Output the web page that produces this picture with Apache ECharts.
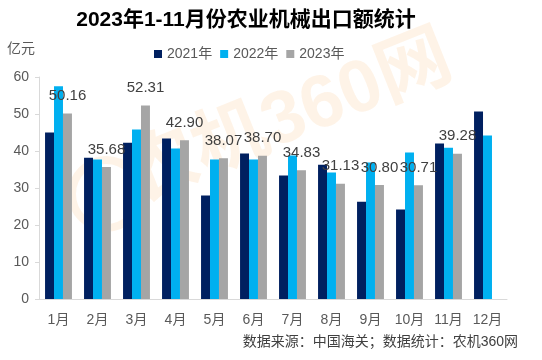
<!DOCTYPE html>
<html><head><meta charset="utf-8">
<script src="https://cdn.jsdelivr.net/npm/echarts@6/dist/echarts.min.js"></script>
<style>html,body{margin:0;padding:0;background:#fff}#c{width:542px;height:360px}</style>
</head><body><div id="c"></div>
<script>
const categories = ['1月','2月','3月','4月','5月','6月','7月','8月','9月','10月','11月','12月'];
const v2021 = [45.0, 38.2, 42.2, 43.4, 28.0, 39.3, 33.4, 36.3, 26.3, 24.2, 42.0, 50.7];
const v2022 = [57.5, 37.7, 45.8, 40.7, 37.7, 37.7, 38.8, 34.2, 36.9, 39.6, 40.9, 44.2];
const v2023 = [50.16, 35.68, 52.31, 42.90, 38.07, 38.70, 34.83, 31.13, 30.80, 30.71, 39.28];
const yTicks = [0, 10, 20, 30, 40, 50, 60];

const chart = echarts.init(document.getElementById('c'));
const font = 'Liberation Sans, Arial, "Noto Sans CJK SC", sans-serif';
chart.setOption({
  animation: false,
  textStyle: { fontFamily: font },
  title: {
    text: '2023年1-11月份农业机械出口额统计',
    left: 241, top: 5, textAlign: 'center',
    textStyle: { fontSize: 21, fontWeight: 'bold', color: '#000', fontFamily: font }
  },
  graphic: [
    { type: 'text', x: 142, y: 218, rotation: 0.38, silent: true, z: -10,
      style: { text: '农机360网', fill: 'rgba(250,165,70,0.13)', font: 'bold 74px ' + font, textVerticalAlign: 'bottom' } },
    { type: 'circle', shape: { cx: 106, cy: 194, r: 34 }, silent: true, z: -10,
      style: { fill: 'none', stroke: 'rgba(250,165,70,0.13)', lineWidth: 8 } },
    { type: 'text', left: 7, top: 42, style: { text: '亿元', fill: '#595959', font: '14px ' + font } },
    { type: 'text', right: 24, top: 335, style: { text: '数据来源：中国海关；数据统计：农机360网', fill: '#404040', font: '14px ' + font } }
  ],
  legend: {
    top: 42, left: 149,
    itemWidth: 8, itemHeight: 8, itemGap: 8, icon: 'rect',
    textStyle: { fontSize: 14, color: '#595959', fontFamily: font },
    data: ['2021年','2022年','2023年']
  },
  grid: { left: 39, right: 35, top: 77, bottom: 61 },
  xAxis: {
    type: 'category', data: categories,
    axisLine: { lineStyle: { color: '#d9d9d9' } },
    axisTick: { show: false },
    axisLabel: { fontSize: 14, color: '#595959', margin: 14 }
  },
  yAxis: {
    type: 'value', min: yTicks[0], max: yTicks[yTicks.length-1], interval: 10,
    axisLine: { show: true, lineStyle: { color: '#d9d9d9' } },
    axisTick: { show: true, length: 4, lineStyle: { color: '#d9d9d9' } },
    splitLine: { show: false },
    axisLabel: { fontSize: 14, color: '#595959', margin: 10 }
  },
  series: [
    { name: '2021年', type: 'bar', data: v2021, barGap: '0%', barCategoryGap: '31%', itemStyle: { color: '#002060' } },
    { name: '2022年', type: 'bar', data: v2022, itemStyle: { color: '#00b0f0' } },
    { name: '2023年', type: 'bar', data: v2023, itemStyle: { color: '#a5a5a5' },
      label: { show: true, position: 'top', distance: 10, fontSize: 15, color: '#404040',
        formatter: p => p.value.toFixed(2) } }
  ]
});
</script></body></html>
